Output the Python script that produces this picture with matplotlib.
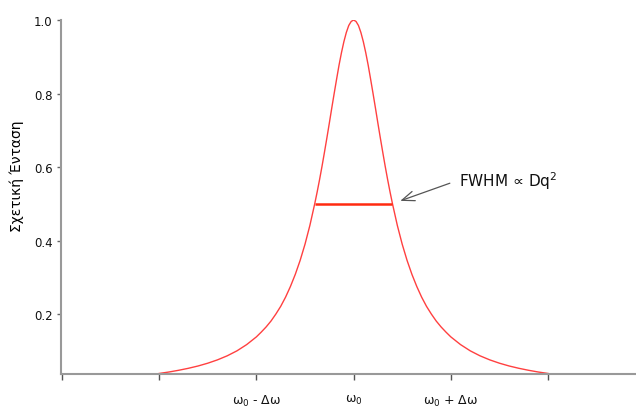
import matplotlib
matplotlib.use("Agg")
import matplotlib.pyplot as plt

plt.rcParams['font.family'] = ['DejaVu Sans']
plt.rcParams['mathtext.default'] = 'regular'

# Frequency offset in units of Δω (ω0 at 0)
x_vals = [-2.0, -1.9, -1.8, -1.7, -1.6, -1.5, -1.4, -1.3, -1.2, -1.1, -1.0,
          -0.95, -0.9, -0.85, -0.8, -0.75, -0.7, -0.65, -0.6, -0.55, -0.5,
          -0.45, -0.4, -0.375, -0.35, -0.325, -0.3, -0.275, -0.25, -0.225,
          -0.2, -0.175, -0.15, -0.125, -0.1, -0.075, -0.05, -0.025, 0.0,
          0.025, 0.05, 0.075, 0.1, 0.125, 0.15, 0.175, 0.2, 0.225, 0.25,
          0.275, 0.3, 0.325, 0.35, 0.375, 0.4, 0.45, 0.5, 0.55, 0.6, 0.65,
          0.7, 0.75, 0.8, 0.85, 0.9, 0.95, 1.0, 1.1, 1.2, 1.3, 1.4, 1.5, 1.6,
          1.7, 1.8, 1.9, 2.0]
intensity = [0.0385, 0.0424, 0.0471, 0.0525, 0.0588, 0.0664, 0.0755, 0.0865,
             0.100, 0.117, 0.138,
             0.151, 0.165, 0.181, 0.200, 0.221, 0.246, 0.275, 0.308, 0.346,
             0.390, 0.441, 0.500, 0.532, 0.566, 0.602, 0.640, 0.679, 0.719,
             0.760, 0.800, 0.839, 0.877, 0.911, 0.941, 0.966, 0.985, 0.996,
             1.000,
             0.996, 0.985, 0.966, 0.941, 0.911, 0.877, 0.839, 0.800, 0.760,
             0.719, 0.679, 0.640, 0.602, 0.566, 0.532, 0.500, 0.441, 0.390,
             0.346, 0.308, 0.275, 0.246, 0.221, 0.200, 0.181, 0.165, 0.151,
             0.138, 0.117, 0.100, 0.0865, 0.0755, 0.0664, 0.0588, 0.0525,
             0.0471, 0.0424, 0.0385]

fwhm_x = [-0.4, 0.4]
fwhm_y = [0.5, 0.5]

x_ticks = [-3, -2, -1, 0, 1, 2]
x_tick_labels = ['', '', r'$\omega_0$ - $\Delta\omega$', r'$\omega_0$',
                 r'$\omega_0$ + $\Delta\omega$', '']
y_ticks = [0.2, 0.4, 0.6, 0.8, 1.0]
y_tick_labels = ['0.2', '0.4', '0.6', '0.8', '1.0']

fig = plt.figure(figsize=(6.36, 4.10), dpi=100)
ax = fig.add_axes([61/636, 1 - 375/410, 1 - 61/636, (375 - 21)/410])

ax.plot(x_vals, intensity, color='#ff4040', lw=1.0)
ax.plot(fwhm_x, fwhm_y, color='#ff2a10', lw=1.8, solid_capstyle='butt')

ax.set_xlim(-3.01, 2.905)
ax.set_ylim(0.037, 1.0)

ax.set_xticks(x_ticks)
ax.set_xticklabels(x_tick_labels, fontsize=9)
ax.set_yticks(y_ticks)
ax.set_yticklabels(y_tick_labels, fontsize=8.5)

for s in ['top', 'right']:
    ax.spines[s].set_visible(False)
for s in ['left', 'bottom']:
    ax.spines[s].set_color('#999999')
    ax.spines[s].set_linewidth(1.5)

ax.tick_params(axis='x', direction='out', length=4, width=1, color='#555555',
               pad=9.5, labelcolor='#111111')
ax.tick_params(axis='y', direction='out', length=3, width=1, color='#666666',
               pad=3, labelcolor='#111111')

ax.set_ylabel('Σχετική Ένταση', fontsize=10)
ax.yaxis.set_label_coords(-0.064, 0.562)

ax.text(1.08, 0.565, r'FWHM ∝ Dq$^2$', fontsize=11, ha='left',
        va='center', color='#111111')
ax.annotate('', xy=(0.48, 0.508), xytext=(0.99, 0.556),
            arrowprops=dict(arrowstyle='->,head_length=0.9,head_width=0.35',
                            color='#555555', lw=0.9, shrinkA=0, shrinkB=0))

fig.savefig('out.png', dpi=100)
